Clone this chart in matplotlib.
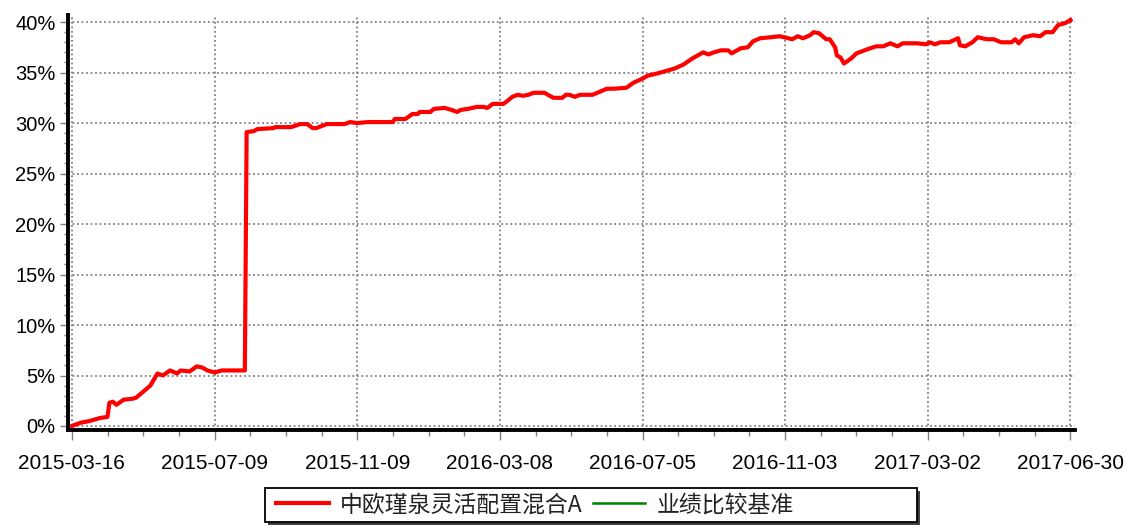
import matplotlib
matplotlib.use("Agg")
import matplotlib.pyplot as plt
from matplotlib.patches import Rectangle
from matplotlib.ticker import MultipleLocator, FuncFormatter

# trading-day index (0 = 2015-03-16, 560 = 2017-06-30) and cumulative return in %
fund_idx = [0, 4.5, 10, 16, 20, 21, 23, 25, 29, 34, 36, 38, 44, 48, 51, 55, 59, 61,
            66, 70, 73, 76, 80, 84, 97, 98, 102, 104, 113, 114, 123, 128, 132, 135,
            137, 143, 153, 156, 160, 166, 173, 180, 181, 187, 191, 194, 195, 201,
            203, 209, 213, 216, 218, 222, 227, 231, 233, 236, 239, 242, 245, 247,
            250, 253, 256, 259, 265, 270, 275, 277, 279, 282, 285, 292, 296, 300,
            304, 311, 315, 320, 323, 328, 334, 338, 343, 348, 354, 357, 360, 364,
            368, 370, 375, 379, 382, 386, 392, 397, 404, 407, 410, 414, 416, 419,
            423, 425, 428, 429, 431, 433, 437, 440, 446, 451, 455, 459, 463, 466,
            474, 479, 481, 484, 487, 492, 497, 498, 501, 505, 508, 513, 517, 521,
            527, 529, 531, 534, 539, 543, 546, 550, 553, 557, 560]
fund_values = [0.0, 0.3, 0.5, 0.8, 0.9, 2.3, 2.4, 2.1, 2.6, 2.7, 2.8, 3.1, 4.0, 5.2,
               5.0, 5.5, 5.2, 5.5, 5.4, 5.9, 5.8, 5.5, 5.3, 5.5, 5.5, 29.1, 29.2,
               29.4, 29.5, 29.6, 29.6, 29.9, 29.9, 29.5, 29.5, 29.9, 29.9, 30.1,
               30.0, 30.1, 30.1, 30.1, 30.4, 30.4, 30.9, 30.9, 31.1, 31.1, 31.4,
               31.5, 31.3, 31.1, 31.3, 31.4, 31.6, 31.6, 31.5, 31.9, 31.9, 31.9,
               32.3, 32.6, 32.8, 32.7, 32.8, 33.0, 33.0, 32.5, 32.5, 32.8, 32.8,
               32.6, 32.8, 32.8, 33.1, 33.4, 33.4, 33.5, 34.0, 34.4, 34.7, 34.9,
               35.2, 35.4, 35.8, 36.4, 37.0, 36.8, 37.0, 37.2, 37.2, 36.9, 37.4,
               37.5, 38.1, 38.4, 38.5, 38.6, 38.3, 38.6, 38.4, 38.7, 39.0, 38.9,
               38.3, 38.3, 37.5, 36.7, 36.5, 35.9, 36.4, 36.9, 37.3, 37.6, 37.6,
               37.9, 37.6, 37.9, 37.9, 37.8, 38.0, 37.8, 38.0, 38.0, 38.4, 37.7,
               37.6, 38.0, 38.5, 38.3, 38.3, 38.0, 38.0, 38.3, 37.9, 38.5, 38.7,
               38.6, 39.0, 39.0, 39.7, 39.9, 40.2]

# benchmark: only shown in the legend
bench_idx = []
bench_values = []

tick_pos = [0, 80, 160, 240, 320, 400, 480, 560]
tick_labels = ["2015-03-16", "2015-07-09", "2015-11-09", "2016-03-08",
               "2016-07-05", "2016-11-03", "2017-03-02", "2017-06-30"]

fund_name = "中欧瑾泉灵活配置混合A"
bench_name = "业绩比较基准"

plt.rcParams['font.family'] = ['Liberation Sans', 'Noto Sans CJK SC', 'DejaVu Sans']

W, H = 1127, 527
fig = plt.figure(figsize=(W / 100, H / 100), dpi=100)
ax = fig.add_axes([0.0603, 0.184, 0.8935, 0.7875])

ax.plot(fund_idx, fund_values, color='#ff0000', lw=3.0, label=fund_name,
        solid_joinstyle='round', zorder=3)
ax.plot(bench_idx, bench_values, color='#008000', lw=1.8, label=bench_name)

ax.set_xlim(-2.2, 562.5)
ax.set_ylim(-0.4, 40.7)

ax.set_xticks(tick_pos)
ax.set_xticklabels(tick_labels)
ax.xaxis.set_minor_locator(MultipleLocator(20))
ax.yaxis.set_major_locator(MultipleLocator(5))
ax.yaxis.set_minor_locator(MultipleLocator(1))
ax.yaxis.set_major_formatter(FuncFormatter(lambda v, p: "%d%%" % round(v)))

ax.tick_params(axis='x', which='major', length=7, width=1, color='#808080',
               labelsize=15, pad=10)
ax.tick_params(axis='x', which='minor', length=4, width=1, color='#808080')
ax.tick_params(axis='y', which='major', length=6, width=1, color='#808080',
               labelsize=14.5, pad=3)
ax.tick_params(axis='y', which='minor', length=3, width=1, color='#808080')

ax.grid(True, which='major', color='#808080', linestyle=(0, (1, 1.5)), lw=1.3)
ax.set_axisbelow(True)

for s in ['top', 'right']:
    ax.spines[s].set_visible(False)
for s in ['left', 'bottom']:
    ax.spines[s].set_linewidth(2.8)
    ax.spines[s].set_color('black')
    ax.spines[s].set_zorder(4)

# legend box (wider than its content, with a dark drop shadow)
bx0, by0, bx1, by1 = 265, 488, 917, 522
fig.patches.append(Rectangle(((bx0 + 3) / W, 1 - (by1 + 3) / H),
                             (bx1 - bx0) / W, (by1 - by0) / H,
                             transform=fig.transFigure, facecolor='#404040',
                             edgecolor='none', zorder=1))
fig.patches.append(Rectangle((bx0 / W, 1 - by1 / H), (bx1 - bx0) / W, (by1 - by0) / H,
                             transform=fig.transFigure, facecolor='white',
                             edgecolor='black', lw=1.3, zorder=2))

leg = fig.legend(loc='center left', bbox_to_anchor=(276 / W, 1 - 505 / H), ncol=2,
                 frameon=False, handlelength=2.3, handletextpad=0.48,
                 columnspacing=0.45, borderpad=0, borderaxespad=0,
                 prop={'family': ['Noto Sans CJK SC', 'DejaVu Sans'], 'size': 16.5})
leg.set_zorder(5)
for t in leg.get_texts():
    t.set_color('#222222')

fig.savefig("out.png", dpi=100)
